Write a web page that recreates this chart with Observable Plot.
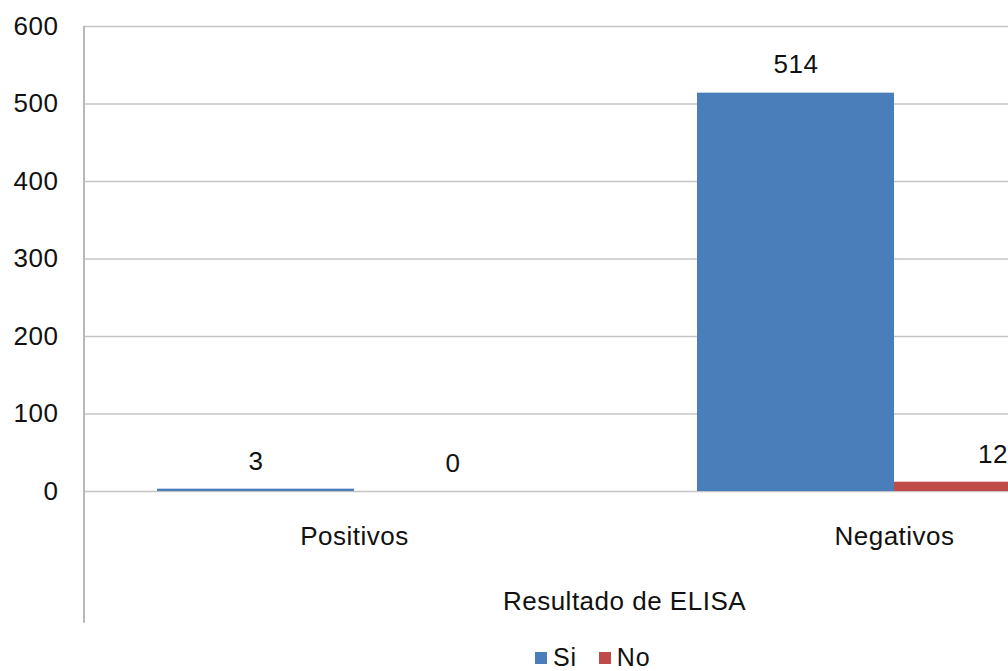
<!DOCTYPE html>
<html><head><meta charset="utf-8">
<script src="https://cdn.jsdelivr.net/npm/d3@7"></script>
<script src="https://cdn.jsdelivr.net/npm/@observablehq/plot@0.6"></script>
<style>
html,body{margin:0;padding:0;background:#fff;overflow:hidden;width:1008px;height:671px}
#chart{position:relative;width:1008px;height:671px;overflow:hidden}
.legend{position:absolute;left:535px;top:645px;display:flex;align-items:center;font:25px "Liberation Sans", Arial, sans-serif;letter-spacing:0.8px;line-height:25px;color:#111;white-space:nowrap}
.legend .item{display:inline-flex;align-items:center;margin-right:22px}
.legend .sw{display:inline-block;width:12px;height:12px;margin-right:6px}
</style></head><body><div id="chart"></div>
<script>
const categories = ["Positivos", "Negativos"];
const series = ["Si", "No"];
const siValues = [3, 514];
const noValues = [0, 12];
const colors = ["#4a7ebb", "#be4b48"];
const yTicks = [0, 100, 200, 300, 400, 500, 600];
const axisTitle = "Resultado de ELISA";

const data = categories.flatMap((c, i) => [
  {category: c, series: series[0], value: siValues[i]},
  {category: c, series: series[1], value: noValues[i]}
]);

const plot = Plot.plot({
  width: 1180, height: 640,
  marginTop: 26, marginLeft: 84, marginRight: 16, marginBottom: 149,
  style: {fontFamily: '"Liberation Sans", Arial, sans-serif', fontSize: "26px", letterSpacing: "0.5px", color: "#111", background: "#fff", maxWidth: "none", overflow: "visible"},
  fx: {domain: categories, padding: 0, label: axisTitle, tickSize: 0, tickPadding: 35, labelAnchor: "center", labelOffset: 118},
  x: {domain: series, paddingInner: 0, paddingOuter: 0.37, axis: null},
  y: {domain: [0, 600], ticks: yTicks, tickSize: 0, tickPadding: 26, label: null},
  color: {domain: series, range: colors},
  marks: [
    Plot.ruleY(yTicks, {stroke: "#c4c4c4", strokeWidth: 1.6}),
    Plot.barY(data, {fx: "category", x: "series", y: "value", fill: "series"}),
    Plot.text(data, {fx: "category", x: "series", y: "value", text: d => String(d.value), dy: -28, fontSize: 26, fill: "#111"})
  ]
});
document.getElementById("chart").appendChild(plot);

// left axis line, extended down through the category-label area
const yS = plot.scale("y"), fxS = plot.scale("fx");
const x0 = fxS.range[0];
d3.select(plot).append("line")
  .attr("x1", x0).attr("x2", x0)
  .attr("y1", yS.apply(600)).attr("y2", yS.apply(-170))
  .attr("stroke", "#b8b8b8").attr("stroke-width", 2);

const legend = d3.select("#chart").append("div").attr("class", "legend");
series.forEach((s, i) => {
  const item = legend.append("span").attr("class", "item");
  item.append("span").attr("class", "sw").style("background", colors[i]);
  item.append("span").text(s);
});
</script></body></html>
